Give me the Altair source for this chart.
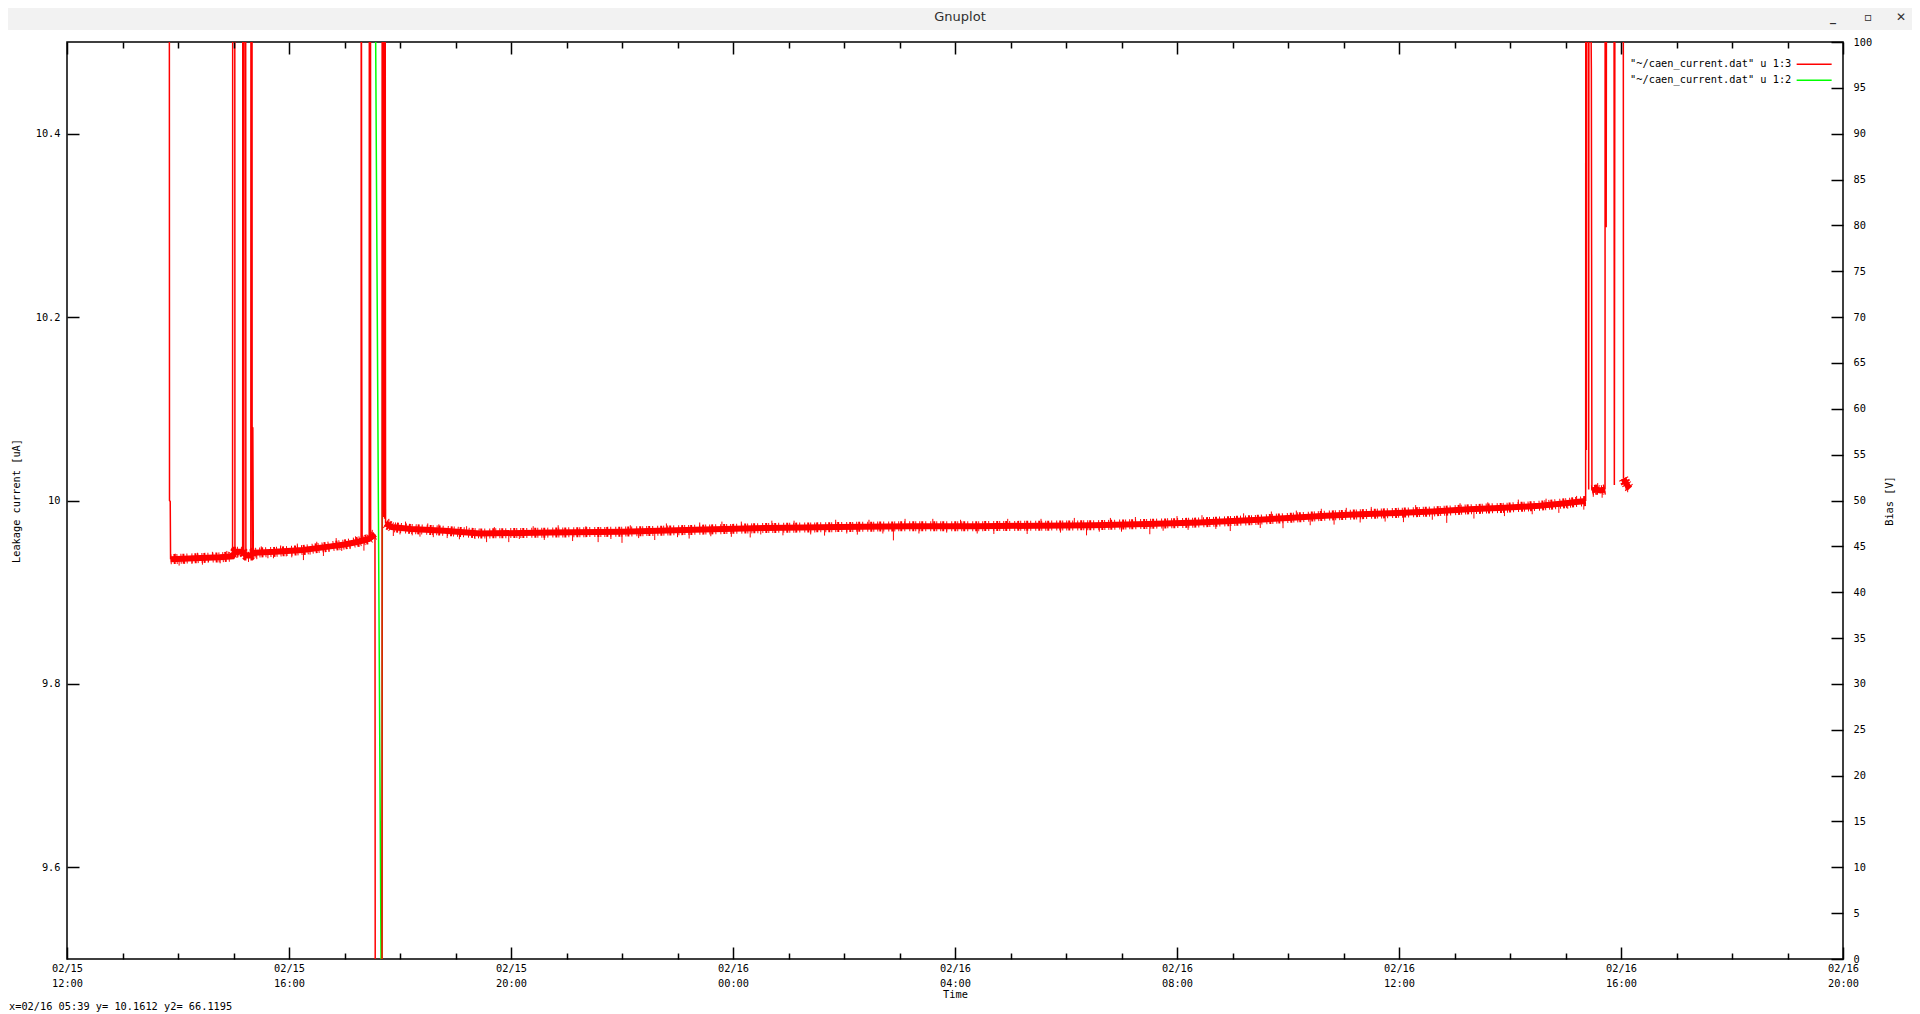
import json
import altair as alt
import pandas as pd

# ---------------- values ----------------
# time axis: hours after 02/15 12:00
hour_ticks = list(range(0, 33))
tick_dates = ["02/15", "02/15", "02/15", "02/16", "02/16", "02/16", "02/16", "02/16", "02/16"]
tick_times = ["12:00", "16:00", "20:00", "00:00", "04:00", "08:00", "12:00", "16:00", "20:00"]
y_ticks = [9.6, 9.8, 10.0, 10.2, 10.4]
y2_ticks = list(range(0, 101, 5))

# leakage current, dense noisy band (centre of the band), four visible pieces
band_a_hours = [1.866, 2.3, 2.75, 2.98, 3.03, 3.16, 3.23, 3.31, 3.36, 3.75, 4.25, 4.75, 5.0, 5.25, 5.44, 5.552]
band_a_vals = [9.936, 9.937, 9.938, 9.939, 9.944, 9.944, 9.940, 9.940, 9.943, 9.944, 9.946, 9.950, 9.952, 9.955, 9.958, 9.963]
band_b_hours = [5.74, 5.85, 6.2, 6.8, 7.44, 8.7, 10.0, 11.3, 12.6, 13.9, 15.2, 16.4, 17.5, 18.5,
                19.46, 20.4, 21.39, 22.0, 22.68, 23.3, 23.96, 24.6, 25.26, 25.9, 26.54, 27.0, 27.19, 27.365]
band_b_vals = [9.975, 9.971, 9.969, 9.967, 9.964, 9.965, 9.966, 9.968, 9.970, 9.971, 9.972, 9.972, 9.9725, 9.973,
               9.9745, 9.976, 9.9787, 9.981, 9.9834, 9.985, 9.9865, 9.988, 9.9904, 9.992, 9.9943, 9.997, 9.9983, 9.9995]
band_c_hours = [27.476, 27.55, 27.63, 27.712]
band_c_vals = [10.011, 10.012, 10.011, 10.012]
band_d_hours = [28.045, 28.07, 28.10, 28.13, 28.16]
band_d_vals = [10.024, 10.021, 10.018, 10.015, 10.013]

# leakage current excursions (values of 10.8 / 9.2 are off the 9.5-10.5 range)
spike_event = ([0] * 4 + [1] * 4 + [2] * 6 + [3] * 7 + [4] * 4 + [5] * 4 + [6] * 11 + [7] * 9 + [8] * 9)
spike_hours = [1.843, 1.847, 1.860, 1.866,
               2.983, 2.986, 3.022, 3.026,
               3.165, 3.168, 3.186, 3.192, 3.218, 3.223,
               3.312, 3.315, 3.333, 3.336, 3.342, 3.348, 3.357,
               5.299, 5.302, 5.309, 5.318,
               5.445, 5.448, 5.468, 5.471,
               5.549, 5.556, 5.676, 5.679, 5.689, 5.697, 5.706, 5.714, 5.723, 5.731, 5.740,
               27.363, 27.366, 27.376, 27.382, 27.412, 27.418, 27.424, 27.466, 27.476,
               27.712, 27.715, 27.733, 27.743, 27.872, 27.880, 27.895, 28.040, 28.045]
spike_vals = [10.8, 10.0, 9.999, 9.936,
              9.939, 10.8, 10.8, 9.944,
              9.944, 10.8, 9.944, 10.8, 10.8, 9.940,
              9.940, 10.8, 10.8, 10.082, 9.943, 10.08, 9.943,
              9.956, 10.8, 10.236, 9.956,
              9.958, 10.8, 10.8, 9.961,
              9.963, 9.2, 9.2, 10.8, 9.985, 10.8, 9.982, 10.8, 9.980, 10.8, 9.975,
              9.9995, 10.8, 10.055, 10.8, 10.8, 10.012, 10.8, 10.47, 10.011,
              10.012, 10.8, 10.298, 10.8, 10.8, 10.017, 10.8, 10.8, 10.024]

# single noise excursions out of the band: time, band level, extreme reading
noise_a_hours = [1.95, 2.02, 2.12, 2.25, 2.35, 2.44, 2.55, 2.62, 2.76, 2.88,
                 3.08, 3.27, 3.42, 3.50, 3.62, 3.72, 3.85, 3.95, 4.05, 4.15,
                 4.26, 4.38, 4.50, 4.62, 4.72, 4.85, 4.95, 5.10, 5.20, 5.35, 5.50]
noise_a_band = [9.936, 9.936, 9.936, 9.937, 9.937, 9.938, 9.938, 9.938, 9.939, 9.939,
                9.944, 9.939, 9.943, 9.943, 9.943, 9.944, 9.944, 9.945, 9.945, 9.946,
                9.946, 9.947, 9.948, 9.949, 9.950, 9.951, 9.952, 9.953, 9.954, 9.957, 9.961]
noise_a_peak = [9.942, 9.929, 9.931, 9.931, 9.943, 9.930, 9.933, 9.944, 9.9315, 9.945,
                9.938, 9.933, 9.936, 9.950, 9.937, 9.937, 9.951, 9.939, 9.938, 9.953,
                9.935, 9.941, 9.955, 9.9395, 9.944, 9.959, 9.945, 9.947, 9.961, 9.9453, 9.968]
noise_b_hours = [5.80, 5.88, 6.00, 6.10, 6.22, 6.36, 6.50, 6.60, 6.70, 6.85,
                 7.07, 7.20, 7.35, 7.56, 7.70, 7.96, 8.15, 8.40, 8.60, 8.85,
                 9.11, 9.35, 9.57, 9.80, 10.00, 10.15, 10.30, 10.59, 10.80, 11.00,
                 11.21, 11.40, 11.60, 11.80, 11.97, 12.15, 12.31, 12.50, 12.70, 12.90,
                 13.10, 13.40, 13.65, 13.85, 14.05, 14.24, 14.45, 14.70, 14.89, 15.10,
                 15.35, 15.60, 15.85, 16.10, 16.40, 16.70, 16.95, 17.30, 17.55, 17.90,
                 18.15, 18.37, 18.60, 18.80, 19.00, 19.25, 19.51, 19.75, 20.00, 20.20,
                 20.45, 20.70, 20.96, 21.20, 21.50, 21.70, 21.91, 22.15, 22.40, 22.60,
                 22.83, 23.05, 23.30, 23.50, 23.75, 24.08, 24.30, 24.60, 24.86, 25.10,
                 25.35, 25.60, 25.90, 26.15, 26.40, 26.65, 26.88, 27.04, 27.20, 27.33]
noise_b_band = [9.973, 9.970, 9.970, 9.969, 9.969, 9.968, 9.968, 9.967, 9.967, 9.967,
                9.966, 9.965, 9.965, 9.964, 9.964, 9.964, 9.965, 9.965, 9.965, 9.965,
                9.965, 9.965, 9.966, 9.966, 9.966, 9.966, 9.967, 9.967, 9.967, 9.968,
                9.968, 9.968, 9.969, 9.969, 9.969, 9.970, 9.970, 9.970, 9.970, 9.970,
                9.971, 9.971, 9.971, 9.971, 9.971, 9.971, 9.972, 9.972, 9.972, 9.972,
                9.972, 9.972, 9.972, 9.972, 9.972, 9.972, 9.9725, 9.9725, 9.9725, 9.973,
                9.973, 9.973, 9.973, 9.974, 9.974, 9.974, 9.9745, 9.975, 9.975, 9.976,
                9.976, 9.977, 9.9775, 9.978, 9.979, 9.980, 9.9805, 9.981, 9.982, 9.983,
                9.984, 9.984, 9.985, 9.985, 9.986, 9.987, 9.987, 9.988, 9.989, 9.990,
                9.9905, 9.991, 9.992, 9.993, 9.994, 9.995, 9.996, 9.997, 9.998, 9.999]
noise_b_peak = [9.980, 9.9613, 9.963, 9.977, 9.962, 9.9606, 9.975, 9.960, 9.974, 9.959,
                9.9577, 9.972, 9.958, 9.9546, 9.971, 9.9546, 9.958, 9.972, 9.957, 9.973,
                9.9558, 9.972, 9.9546, 9.958, 9.9538, 9.973, 9.959, 9.9569, 9.975, 9.960,
                9.9585, 9.976, 9.961, 9.977, 9.9604, 9.977, 9.9597, 9.963, 9.978, 9.962,
                9.978, 9.963, 9.9617, 9.979, 9.964, 9.9628, 9.979, 9.964, 9.9565, 9.980,
                9.964, 9.980, 9.965, 9.979, 9.964, 9.9635, 9.980, 9.9635, 9.980, 9.965,
                9.981, 9.962, 9.966, 9.981, 9.966, 9.982, 9.9632, 9.967, 9.983, 9.968,
                9.984, 9.969, 9.9667, 9.986, 9.970, 9.988, 9.9698, 9.989, 9.973, 9.991,
                9.9737, 9.992, 9.976, 9.993, 9.977, 9.9764, 9.995, 9.979, 9.9756, 9.997,
                9.9803, 9.998, 9.983, 10.001, 9.985, 10.002, 9.9865, 9.991, 10.005, 9.990]
noise_c_hours = [27.50, 27.58, 27.66, 28.09, 28.12]
noise_c_band = [10.011, 10.012, 10.011, 10.018, 10.016]
noise_c_peak = [10.004, 10.019, 10.003, 10.011, 10.009]

# bias (values outside 0-100 V are off the visible range)
green_hours = [1.843, 5.557, 5.663, 5.675, 5.689, 28.16]
green_volts = [105, 105, -5, -5, 105, 105]

series_names = ['"~/caen_current.dat" u 1:3', '"~/caen_current.dat" u 1:2']
series_colors = ["#ff0000", "#00ff00"]

x_title = "Time"
y_title = "Leakage current [uA]"
y2_title = "Bias [V]"
window_title = "Gnuplot"
window_buttons = ["_", "▫", "✕"]
status_text = "x=02/16 05:39 y= 10.1612 y2= 66.1195"

# ---------------- tables ----------------
band_df = pd.DataFrame({
    "hour": band_a_hours + band_b_hours + band_c_hours + band_d_hours,
    "value": band_a_vals + band_b_vals + band_c_vals + band_d_vals,
    "seg": ["A"] * len(band_a_hours) + ["B"] * len(band_b_hours) + ["C"] * len(band_c_hours) + ["D"] * len(band_d_hours),
})
spike_df = pd.DataFrame({"hour": spike_hours, "value": spike_vals, "event": spike_event,
                         "series": series_names[0]})
noise_df = pd.DataFrame({"hour": noise_a_hours + noise_b_hours + noise_c_hours,
                         "band": noise_a_band + noise_b_band + noise_c_band,
                         "peak": noise_a_peak + noise_b_peak + noise_c_peak})
green_df = pd.DataFrame({"hour": green_hours, "volts": green_volts, "series": series_names[1]})

# ---------------- styling ----------------
FONT = "DejaVu Sans Mono"
FS = 10.3
RED = series_colors[0]
W, H = 1776, 917

xscale = alt.Scale(domain=[0, 32], nice=False, zero=False)
yscale = alt.Scale(domain=[9.5, 10.5], nice=False, zero=False)
y2scale = alt.Scale(domain=[0, 100], nice=False, zero=False)
color_scale = alt.Scale(domain=series_names, range=series_colors)

tick_len_x = {"expr": "datum.value % 4 == 0 ? -12 : -6"}
tick_len_y = {"expr": "-12"}
label_expr = ("datum.value % 4 == 0 ? [" + json.dumps(tick_dates) + "[datum.value / 4], "
              + json.dumps(tick_times) + "[datum.value / 4]] : ''")

common = dict(domain=False, grid=False, tickColor="black", tickWidth=1.5, labelFont=FONT,
              labelFontSize=FS, labelColor="black", labelFlush=False, labelOverlap=False,
              titleFont=FONT, titleFontSize=FS, titleFontWeight="normal", titleColor="black", zindex=1)

x_bottom = alt.Axis(orient="bottom", values=hour_ticks, tickSize=tick_len_x, labelExpr=label_expr,
                    labelPadding=16, labelBaseline="top", labelLineHeight=15,
                    title=x_title, titleBaseline="top", titleY=30, titleX=W / 2, **common)
x_top = alt.Axis(orient="top", values=hour_ticks, tickSize=tick_len_x, labels=False, title=None, **common)
y_left = alt.Axis(orient="left", values=y_ticks, tickSize=tick_len_y, labelPadding=19, format="~g",
                  title=y_title, titleAngle=270, titleX=-51, titleY=H / 2, titleBaseline="middle",
                  titleAlign="center", **common)
y_right = alt.Axis(orient="right", values=y2_ticks, tickSize=tick_len_y, labelPadding=22,
                   title=y2_title, titleAngle=270, titleX=46, titleY=H / 2, titleBaseline="middle",
                   titleAlign="center", **common)

legend = alt.Legend(orient="none", legendX=1742, legendY=17, direction="vertical", title=None,
                    symbolType="M-5,0H5", symbolSize=49, symbolStrokeWidth=1.5, symbolOffset=0,
                    labelAlign="right", labelOffset={"expr": "-28"}, labelFont=FONT, labelFontSize=FS,
                    labelColor="black", labelLimit=400, padding=0, rowPadding=5)

X = alt.X("hour:Q", scale=xscale, axis=x_bottom)
Yc = alt.Y("value:Q", scale=yscale, axis=y_left)

band = alt.Chart(band_df).mark_line(color=RED, strokeWidth=6, clip=True, strokeCap="butt").encode(
    x=X, y=Yc, detail="seg:N")
band_fuzz = alt.Chart(band_df).mark_line(
    color=RED, strokeWidth=10, clip=True, strokeCap="butt",
    strokeDash=[1, 2, 2, 1, 1, 3, 1, 1, 2, 2, 1, 4]).encode(x=X, y=Yc, detail="seg:N")
noise = alt.Chart(noise_df).mark_rule(color=RED, strokeWidth=1, clip=True).encode(
    x=X, y=alt.Y("band:Q", scale=yscale, axis=y_left), y2="peak:Q")
spikes = alt.Chart(spike_df).mark_line(strokeWidth=1.5, clip=True).encode(
    x=X, y=Yc, detail="event:N",
    color=alt.Color("series:N", scale=color_scale, legend=legend))
current = alt.layer(band, band_fuzz, noise, spikes)

bias = alt.Chart(green_df).mark_line(strokeWidth=1.5, clip=True).encode(
    x=alt.X("hour:Q", scale=xscale, axis=x_top),
    y=alt.Y("volts:Q", scale=y2scale, axis=y_right),
    color=alt.Color("series:N", scale=color_scale, legend=legend))

# window decoration and status line
bar = alt.Chart(pd.DataFrame({"t": [window_title]})).mark_rect(color="#f2f2f2").encode(
    x=alt.value(-59), x2=alt.value(W + 69), y=alt.value(-34), y2=alt.value(-12))
title_txt = alt.Chart(pd.DataFrame({"t": [window_title]})).mark_text(
    font="DejaVu Sans", fontSize=13, color="#2e2e2e", align="center", baseline="middle").encode(
    x=alt.value(893), y=alt.value(-25), text="t:N")
button_x = [1766, 1801, 1834]
buttons = [alt.Chart(pd.DataFrame({"t": [b]})).mark_text(
    font="DejaVu Sans", fontSize=12, color="#2e2e2e", align="center", baseline="middle",
    fontWeight="bold").encode(x=alt.value(bx), y=alt.value(-25), text="t:N")
    for b, bx in zip(window_buttons, button_x)]
status = alt.Chart(pd.DataFrame({"t": [status_text]})).mark_text(
    font=FONT, fontSize=FS, color="black", align="left", baseline="middle").encode(
    x=alt.value(-58), y=alt.value(965), text="t:N")

chart = alt.layer(bar, title_txt, *buttons, bias, current, status).resolve_scale(
    y="independent").resolve_axis(x="independent", y="independent").properties(
    width=W, height=H,
    padding={"left": 59, "top": 34, "right": 69, "bottom": 55},
    autosize=alt.AutoSizeParams(type="none"),
    background="white",
).configure_view(stroke="black", strokeWidth=1.5)

chart.save("out.html", embed_options={"renderer": "svg", "actions": False})
